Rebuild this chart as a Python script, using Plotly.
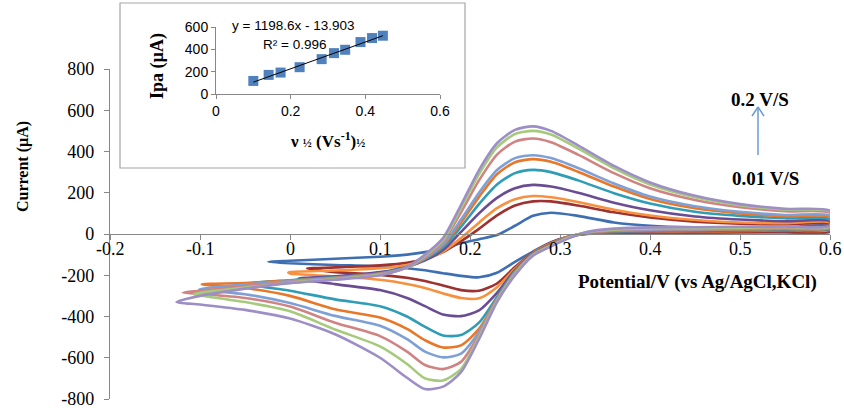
import plotly.graph_objects as go

W, H = 844, 408

# ---------------- data ----------------
scan_rates = [0.01, 0.02, 0.03, 0.05, 0.08, 0.1, 0.12, 0.15, 0.175, 0.2]
colors = ['#3F6FB3', '#9E3230', '#F7913F', '#6A4C93', '#2E9DB5',
          '#E8772A', '#7FA0D6', '#CF8483', '#A6CA7C', '#9D8EC6']

# forward (anodic) scan potentials, V
x_fwd = [-0.1, -0.05, 0, 0.05, 0.1, 0.13, 0.15, 0.17, 0.19, 0.21, 0.23,
         0.25, 0.27, 0.29, 0.32, 0.36, 0.4, 0.45, 0.5, 0.55, 0.6]
# reverse (cathodic) scan potentials, V
x_rev = [0.6, 0.55, 0.5, 0.45, 0.4, 0.36, 0.33, 0.31, 0.29, 0.27, 0.25,
         0.23, 0.21, 0.19, 0.17, 0.15, 0.13, 0.1, 0.05, 0, -0.05, -0.1]

start_x = [-0.024, 0.019, -0.002, 0.009, -0.048, -0.098, -0.101, -0.119, -0.107, -0.126]
start_y = [-135, -168, -187, -217, -242, -244, -268, -284, -292, -330]

N = None
i_fwd = [
    [N, N, -130, -120, -110, -100, -88, -70, -45, -25, -5, 40, 88, 103, 88, 56, 40, 32, 30, 32, 38],
    [N, N, N, -162, -152, -140, -120, -88, -35, 25, 90, 138, 158, 158, 138, 105, 80, 60, 50, 46, 48],
    [N, N, -184, -177, -166, -150, -125, -85, -20, 55, 125, 168, 184, 178, 155, 118, 90, 68, 56, 52, 55],
    [N, N, N, -205, -185, -160, -128, -78, 10, 100, 175, 222, 238, 230, 200, 152, 115, 85, 70, 62, 62],
    [N, N, -224, -210, -190, -160, -122, -65, 35, 145, 240, 295, 311, 300, 260, 198, 148, 108, 88, 76, 72],
    [N, -238, -226, -212, -192, -162, -118, -55, 55, 180, 290, 348, 363, 350, 302, 230, 170, 125, 100, 86, 82],
    [N, -245, -228, -214, -194, -162, -115, -50, 70, 200, 310, 368, 382, 368, 320, 245, 182, 135, 108, 92, 88],
    [-275, -252, -232, -218, -196, -162, -110, -38, 105, 260, 385, 448, 463, 445, 385, 295, 222, 165, 130, 110, 102],
    [-285, -260, -236, -220, -198, -162, -105, -30, 125, 290, 420, 485, 500, 482, 415, 318, 240, 178, 140, 118, 108],
    [-300, -265, -238, -222, -200, -160, -100, -20, 140, 310, 440, 505, 522, 500, 430, 330, 250, 185, 145, 122, 112],
]
i_rev = [
    [10, 8, 7, 6, 6, 4, 0, -12, -40, -85, -135, -188, -210, -203, -190, -176, -166, -157, -150, -142, N, N],
    [15, 12, 10, 9, 9, 7, 2, -12, -42, -90, -160, -240, -275, -272, -250, -228, -212, -198, -185, N, N, N],
    [22, 18, 15, 13, 12, 10, 3, -12, -45, -92, -168, -258, -312, -310, -288, -262, -242, -222, -205, -192, N, N],
    [25, 20, 17, 15, 14, 12, 4, -14, -48, -95, -175, -285, -370, -398, -390, -350, -310, -272, -243, N, N, N],
    [28, 22, 19, 17, 16, 13, 5, -15, -50, -98, -180, -305, -430, -490, -492, -450, -400, -350, -317, -275, N, N],
    [30, 25, 22, 20, 19, 15, 6, -15, -52, -100, -185, -315, -460, -540, -550, -515, -460, -405, -365, -300, -262, N],
    [32, 28, 25, 22, 21, 17, 7, -16, -55, -100, -188, -318, -475, -580, -598, -570, -510, -445, -397, -335, -292, N],
    [35, 31, 28, 25, 24, 20, 8, -17, -57, -102, -192, -322, -490, -620, -655, -635, -570, -495, -430, -352, -310, -290],
    [38, 34, 31, 28, 27, 22, 9, -18, -58, -102, -195, -325, -500, -655, -710, -700, -630, -545, -463, -375, -330, -298],
    [40, 37, 35, 33, 32, 26, 10, -20, -60, -105, -200, -330, -510, -670, -740, -752, -697, -600, -486, -410, -368, -342],
]

# inset: anodic peak current vs square root of scan rate
sqrt_v = [0.1, 0.141, 0.173, 0.224, 0.283, 0.316, 0.346, 0.387, 0.418, 0.447]
ipa = [117, 171, 192, 240, 312, 366, 396, 465, 501, 522]
fit_slope, fit_intercept = 1198.6, -13.903

x_ticks = [-0.2, -0.1, 0, 0.1, 0.2, 0.3, 0.4, 0.5, 0.6]
x_ticktext = ['-0.2', '-0.1', '0', '0.1', '0.2', '0.3', '0.4', '0.5', '0.6']
y_ticks = [-800, -600, -400, -200, 0, 200, 400, 600, 800]
y_ticktext = ['-800', '-600', '-400', '-200', '0', '200', '400', '600', '800']
inset_xticks = [0, 0.2, 0.4, 0.6]
inset_xtext = ['0', '0.2', '0.4', '0.6']
inset_yticks = [0, 200, 400, 600]

# ---------------- figure ----------------
SERIF = 'Liberation Serif'
SANS = 'Liberation Sans'


def px(x):
    return x / W


def py(y):
    return 1 - y / H


fig = go.Figure()

for k in range(len(scan_rates)):
    xs = [start_x[k]]
    ys = [start_y[k]]
    for xv, yv in zip(x_fwd, i_fwd[k]):
        if yv is not None:
            xs.append(xv)
            ys.append(yv)
    for xv, yv in zip(x_rev, i_rev[k]):
        if yv is not None:
            xs.append(xv)
            ys.append(yv)
    xs.append(start_x[k])
    ys.append(start_y[k])
    fig.add_trace(go.Scatter(
        x=xs, y=ys, mode='lines', name=f'{scan_rates[k]} V/s',
        line=dict(color=colors[k], width=2.6, shape='spline', smoothing=0.7),
        xaxis='x', yaxis='y', hoverinfo='skip'))

# inset
fig.add_trace(go.Scatter(
    x=sqrt_v, y=ipa, mode='markers',
    marker=dict(symbol='square', size=10, color='#4F81BD'),
    xaxis='x2', yaxis='y2', hoverinfo='skip'))
fit_x = [sqrt_v[0], sqrt_v[-1]]
fit_y = [fit_slope * v + fit_intercept for v in fit_x]
fig.add_trace(go.Scatter(
    x=fit_x, y=fit_y, mode='lines', line=dict(color='black', width=1),
    xaxis='x2', yaxis='y2', hoverinfo='skip'))

ydom = [(H - 399) / H, (H - 69) / H]
axis_col = '#878787'

fig.update_layout(
    width=W, height=H, autosize=False,
    margin=dict(l=0, r=0, t=0, b=0, pad=0, autoexpand=False),
    paper_bgcolor='white', plot_bgcolor='rgba(0,0,0,0)',
    showlegend=False,
    xaxis=dict(domain=[px(110), px(830)], range=[-0.2, 0.6],
               anchor='free', position=(ydom[0] + ydom[1]) / 2,
               tickvals=x_ticks, showticklabels=False, automargin=False,
               showline=True, linecolor=axis_col, linewidth=1.2,
               ticks='outside', ticklen=5, tickcolor=axis_col,
               showgrid=False, zeroline=False),
    yaxis=dict(domain=ydom, range=[-800, 800], anchor='x', automargin=False,
               tickvals=y_ticks, ticktext=y_ticktext, ticklabeloverflow='allow',
               showline=True, linecolor=axis_col, linewidth=1.2,
               ticks='outside', ticklen=5, tickcolor=axis_col,
               ticklabelstandoff=6,
               showgrid=False, zeroline=False,
               tickfont=dict(family=SERIF, size=18, color='black')),
    xaxis2=dict(domain=[px(216), px(440)], range=[0, 0.6], anchor='y2',
                tickvals=inset_xticks, ticktext=inset_xtext, automargin=False,
                showline=True, linecolor=axis_col, linewidth=1,
                ticks='outside', ticklen=4, tickcolor=axis_col,
                showgrid=False, zeroline=False,
                tickfont=dict(family=SANS, size=14, color='black')),
    yaxis2=dict(domain=[py(94), py(27)], range=[0, 600], anchor='x2',
                tickvals=inset_yticks, automargin=False,
                showline=True, linecolor=axis_col, linewidth=1,
                ticks='outside', ticklen=4, tickcolor=axis_col,
                showgrid=False, zeroline=False,
                tickfont=dict(family=SANS, size=14, color='black')),
)

# main x tick labels, sitting just under the zero line
for tv, tt in zip(x_ticks, x_ticktext):
    fig.add_annotation(text=tt, xref='x', yref='y', x=tv, y=0,
                       xanchor='center', yanchor='top', yshift=-3,
                       showarrow=False,
                       font=dict(family=SERIF, size=18, color='black'))

# inset frame
fig.add_shape(type='rect', xref='paper', yref='paper',
              x0=px(120), x1=px(465), y0=py(168), y1=py(3),
              line=dict(color='#A6A6A6', width=1.2), fillcolor='white',
              layer='below')

# arrow (scan-rate direction)
arrow_col = '#6C9BD2'
fig.add_shape(type='line', xref='paper', yref='paper',
              x0=px(758), x1=px(758), y0=py(155), y1=py(107),
              line=dict(color=arrow_col, width=1.5))
fig.add_shape(type='line', xref='paper', yref='paper',
              x0=px(752), x1=px(758), y0=py(116), y1=py(107),
              line=dict(color=arrow_col, width=1.5))
fig.add_shape(type='line', xref='paper', yref='paper',
              x0=px(764), x1=px(758), y0=py(116), y1=py(107),
              line=dict(color=arrow_col, width=1.5))


def note(text, x, y, size, family=SERIF, angle=0):
    fig.add_annotation(text=text, xref='paper', yref='paper',
                       x=px(x), y=py(y), xanchor='center', yanchor='middle',
                       showarrow=False, textangle=angle,
                       font=dict(family=family, size=size, color='black'))


note('<b>Current (µA)</b>', 23, 167, 16, angle=-90)
note('<b>Potential/V (vs Ag/AgCl,KCl)</b>', 697, 282, 19)
note('<b>0.2 V/S</b>', 760, 99, 19)
note('<b>0.01 V/S</b>', 765, 178, 19)
note('<b>Ipa (µA)</b>', 158, 66, 18, angle=-90)
note('<b>ν <span style="font-size:12px">½</span> (Vs<sup>-1</sup>)'
     '<span style="font-size:12px">½</span></b>', 327, 140, 17)
note('y = 1198.6x - 13.903', 293, 25, 13.5, family=SANS)
note('R² = 0.996', 294, 44, 13.5, family=SANS)

fig.write_html('out.html', config={'displayModeBar': False},
               post_script="document.body.style.margin='0';")
